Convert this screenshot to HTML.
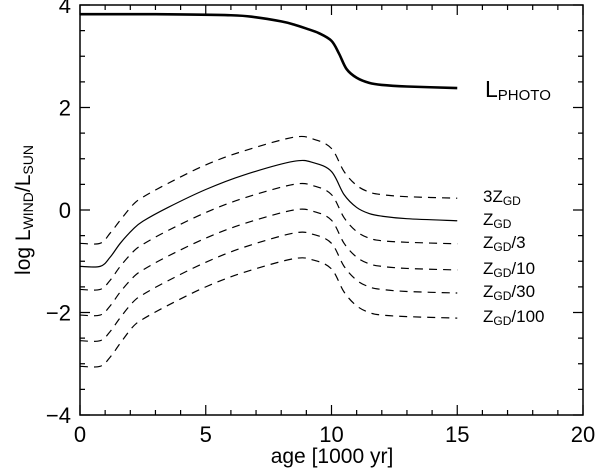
<!DOCTYPE html>
<html><head><meta charset="utf-8"><style>
body{margin:0;background:#fff}
svg{display:block;font-family:"Liberation Sans",Arial,sans-serif}
</style></head><body>
<svg id="chart" width="600" height="469" viewBox="0 0 600 469" xmlns="http://www.w3.org/2000/svg">
<g id="axes"></g>
<g id="series"></g>
<g id="labels">
<text x="485" y="97" font-size="23">L<tspan font-size="15" dy="3">PHOTO</tspan></text>
<text x="483" y="202" font-size="17">3Z<tspan font-size="12" dy="3">GD</tspan></text>
<text x="483" y="225" font-size="17">Z<tspan font-size="12" dy="3">GD</tspan></text>
<text x="483" y="248" font-size="17">Z<tspan font-size="12" dy="3">GD</tspan><tspan dy="-3">/3</tspan></text>
<text x="483" y="274" font-size="17">Z<tspan font-size="12" dy="3">GD</tspan><tspan dy="-3">/10</tspan></text>
<text x="483" y="297" font-size="17">Z<tspan font-size="12" dy="3">GD</tspan><tspan dy="-3">/30</tspan></text>
<text x="483" y="322" font-size="17">Z<tspan font-size="12" dy="3">GD</tspan><tspan dy="-3">/100</tspan></text>
<text x="332" y="463" font-size="21" text-anchor="middle">age [1000 yr]</text>
<text transform="translate(30,210) rotate(-90)" font-size="21" text-anchor="middle">log L<tspan font-size="14" dy="3">WIND</tspan><tspan dy="-3">/L</tspan><tspan font-size="14" dy="3">SUN</tspan></text>
</g>
</svg>
<script>
const xTickLabels=["0","5","10","15","20"];
const yTickLabels=["−4","−2","0","2","4"];
const ages=[0,0.8,1.2,1.6,2.1,2.5,3.5,5,6.5,8.5,9.3,10,10.5,11,11.5,12,13,15];
const zgd=[-1.1,-1.1,-0.92,-0.65,-0.38,-0.22,0.05,0.4,0.68,0.95,0.92,0.75,0.3,0.05,-0.07,-0.12,-0.17,-0.21];
const z3gd=[-0.65,-0.65,-0.45,-0.2,0.1,0.25,0.52,0.88,1.15,1.42,1.38,1.2,0.75,0.48,0.35,0.3,0.26,0.23];
const zgd3=[-1.55,-1.55,-1.37,-1.1,-0.82,-0.67,-0.4,-0.05,0.23,0.5,0.47,0.3,-0.15,-0.42,-0.55,-0.6,-0.63,-0.66];
const zgd10=[-2.05,-2.05,-1.87,-1.6,-1.32,-1.17,-0.9,-0.55,-0.27,0.0,-0.03,-0.2,-0.65,-0.92,-1.05,-1.1,-1.14,-1.17];
const zgd30=[-2.55,-2.55,-2.37,-2.1,-1.8,-1.65,-1.38,-1.02,-0.73,-0.45,-0.48,-0.65,-1.1,-1.37,-1.5,-1.55,-1.59,-1.62];
const zgd100=[-3.05,-3.05,-2.87,-2.6,-2.28,-2.13,-1.86,-1.5,-1.22,-0.95,-0.98,-1.15,-1.6,-1.87,-2.0,-2.05,-2.08,-2.11];
const photoAges=[0,3,6,7,8,8.5,9,9.5,10,10.3,10.6,11,11.5,12,13,15];
const photoL=[3.82,3.82,3.8,3.76,3.68,3.62,3.54,3.45,3.3,3.05,2.75,2.58,2.48,2.44,2.41,2.38];

const NS="http://www.w3.org/2000/svg";
const X0=80,X1=583,Y0=415,Y1=5;
const sx=v=>X0+(v-0)/(20-0)*(X1-X0);
const sy=v=>Y0-(v+4)/8*(Y0-Y1);
function mk(tag,attrs,parent){const e=document.createElementNS(NS,tag);for(const k in attrs)e.setAttribute(k,attrs[k]);parent.appendChild(e);return e;}
const axes=document.getElementById('axes');
const frame=mk('rect',{x:X0,y:Y1,width:X1-X0,height:Y0-Y1,fill:'none',stroke:'#000','stroke-width':1.5},axes);


for(let v=0;v<=20;v++){const maj=v%5===0,L=maj?10:5,x=sx(v);
 const t=mk('path',{d:`M${x},${Y0}V${Y0-L}M${x},${Y1}V${Y1+L}`,stroke:'#000','stroke-width':1.2},axes);
 
 
 if(maj){const tx=mk('text',{x:x,y:442,'font-size':22,'text-anchor':'middle'},axes);tx.textContent=xTickLabels[v/5];
 
 }}
for(let i=0;i<=16;i++){const v=-4+i*0.5,maj=i%4===0,L=maj?10:5,y=sy(v);
 const t=mk('path',{d:`M${X0},${y}H${X0+L}M${X1},${y}H${X1-L}`,stroke:'#000','stroke-width':1.2},axes);
 
 
 if(maj){const ty=mk('text',{x:71,y:y+8,'font-size':22,'text-anchor':'end'},axes);ty.textContent=yTickLabels[i/4];
 
 }}
function smooth(xs,ys){const p=xs.map((x,i)=>[sx(x),sy(ys[i])]);let d=`M${p[0][0]},${p[0][1]}`;
 for(let i=0;i<p.length-1;i++){const a=p[Math.max(0,i-1)],b=p[i],c=p[i+1],e=p[Math.min(p.length-1,i+2)];
 const c1=[b[0]+(c[0]-a[0])/6,b[1]+(c[1]-a[1])/6],c2=[c[0]-(e[0]-b[0])/6,c[1]-(e[1]-b[1])/6];
 d+=`C${c1[0]},${c1[1]} ${c2[0]},${c2[1]} ${c[0]},${c[1]}`;}return d;}
const ser=document.getElementById('series');
const defs=[["line-3zgd",z3gd,true],["line-zgd",zgd,false],["line-zgd-3",zgd3,true],["line-zgd-10",zgd10,true],["line-zgd-30",zgd30,true],["line-zgd-100",zgd100,true]];
defs.forEach(([n,vals,dash])=>{const p=mk('path',{d:smooth(ages,vals),fill:'none',stroke:'#000','stroke-width':1.2},ser);
 if(dash)p.setAttribute('stroke-dasharray','8,6');
 
 });
const ph=mk('path',{d:smooth(photoAges,photoL),fill:'none',stroke:'#000','stroke-width':2.6},ser);


</script>
</body></html>
